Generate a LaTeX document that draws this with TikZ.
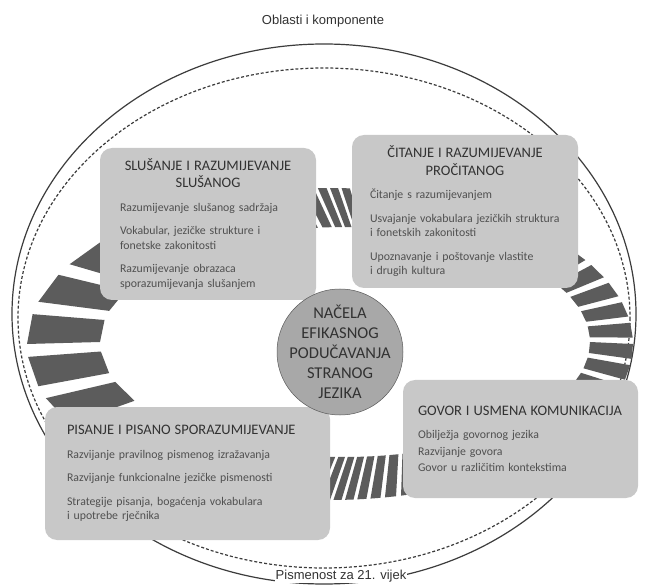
\documentclass[tikz,border=0pt]{standalone}
\usepackage{fontspec}
\setmainfont{Carlito}
\newfontfamily\arialfont{Liberation Sans}
\usepackage{tikz}
\usetikzlibrary{shapes}

\definecolor{okvirsiva}{RGB}{200,200,200}
\definecolor{krugsiva}{RGB}{168,168,168}
\definecolor{zrakasiva}{RGB}{92,92,92}
\definecolor{linijasiva}{RGB}{60,60,60}
\definecolor{naslovsiva}{RGB}{50,50,50}
\definecolor{tekstsiva}{RGB}{80,80,80}

\newcommand{\naslov}[2][\raggedright]{{#1\fontsize{14.5}{17.5}\selectfont\color{naslovsiva}#2\par}\vspace{9pt}}
\newcommand{\stavka}{\par\vspace{9pt}}

\begin{document}
\begin{tikzpicture}[x=1pt, y=-1pt,
	okvir/.style={fill=okvirsiva, rounded corners=12pt, text=tekstsiva, align=left,
				  inner sep=0pt, font=\fontsize{11.8}{14.5}\selectfont},
	zraka/.style={fill=zrakasiva},
	natpis/.style={font=\arialfont\fontsize{13}{15}\selectfont, text=naslovsiva}]

	\fill[white] (0,0) rectangle (646,588);
	\useasboundingbox (0,0) rectangle (646,588);

	\draw[linijasiva, line width=1.2pt] (324,314) ellipse [x radius=312, y radius=270];
	\draw[linijasiva, line width=1.2pt, dash pattern=on 3pt off 2pt] (324,318) ellipse [x radius=306, y radius=250];

	% right half: narrow bars, left half: wide bars
	\foreach \sredina/\c/\n in {0/16.2/36, 180/21.7/20} {
		\pgfmathsetmacro{\d}{180/\n}
		\foreach \i in {1,...,\n} {
			\pgfmathsetmacro{\s}{-90+(\i-1)*\d}
			\pgfmathsetmacro{\ta}{\sredina+\s+\c*sin(2*\s)}
			\pgfmathsetmacro{\tb}{\sredina+\s+0.7*\d+\c*sin(2*(\s+0.7*\d))}
			\fill[zraka] ({330+303*cos(\ta)},{344+156*sin(\ta)}) -- ({330+303*cos(\tb)},{344+156*sin(\tb)})
				-- ({345+245*cos(\tb)},{342+115*sin(\tb)}) -- ({345+245*cos(\ta)},{342+115*sin(\ta)}) -- cycle;
		}
	}

	\draw (208,224) node[okvir,
						 minimum width=216pt,
						 minimum height=152pt,
						 text width=176pt](slusanje) {\naslov[\centering]{SLUŠANJE I RAZUMIJEVANJE\\SLUŠANOG}
		Razumijevanje slušanog sadržaja\stavka
		Vokabular, jezičke strukture i\\fonetske zakonitosti\stavka
		Razumijevanje obrazaca\\sporazumijevanja slušanjem};
	\draw (465,211.5) node[okvir,
						   minimum width=226pt,
						   minimum height=153pt,
						   text width=190pt](citanje) {\naslov[\centering]{ČITANJE I RAZUMIJEVANJE\\PROČITANOG}
		Čitanje s razumijevanjem\stavka
		Usvajanje vokabulara jezičkih struktura\\i fonetskih zakonitosti\stavka
		Upoznavanje i poštovanje vlastite\\i drugih kultura};
	\draw (520.5,439) node[okvir,
						   minimum width=235pt,
						   minimum height=118pt,
						   text width=205pt](govor) {\naslov{GOVOR I USMENA KOMUNIKACIJA}
		Obilježja govornog jezika\\[2pt]
		Razvijanje govora\\[2pt]
		Govor u različitim kontekstima};
	\draw (187.5,473.5) node[okvir,
							 minimum width=285pt,
							 minimum height=133pt,
							 text width=241pt](pisanje) {\naslov{PISANJE I PISANO SPORAZUMIJEVANJE}
		Razvijanje pravilnog pismenog izražavanja\stavka
		Razvijanje funkcionalne jezičke pismenosti\stavka
		Strategije pisanja, bogaćenja vokabulara\\i upotrebe rječnika};

	\fill[krugsiva, draw=gray!70!black, line width=0.5pt] (340,352) circle [radius=63];
	\draw (340,352) node[align=center,
						 text=naslovsiva,
						 font=\fontsize{16.5}{20}\selectfont](nacela) {NAČELA\\EFIKASNOG\\PODUČAVANJA\\STRANOG\\JEZIKA};

	\draw (323,21) node[natpis](oblasti) {Oblasti i komponente};
	\draw (341,576) node[natpis,
						 fill=white,
						 inner xsep=1pt,
						 inner ysep=1pt](pismenost) {Pismenost za 21. vijek};

\end{tikzpicture}
\end{document}
